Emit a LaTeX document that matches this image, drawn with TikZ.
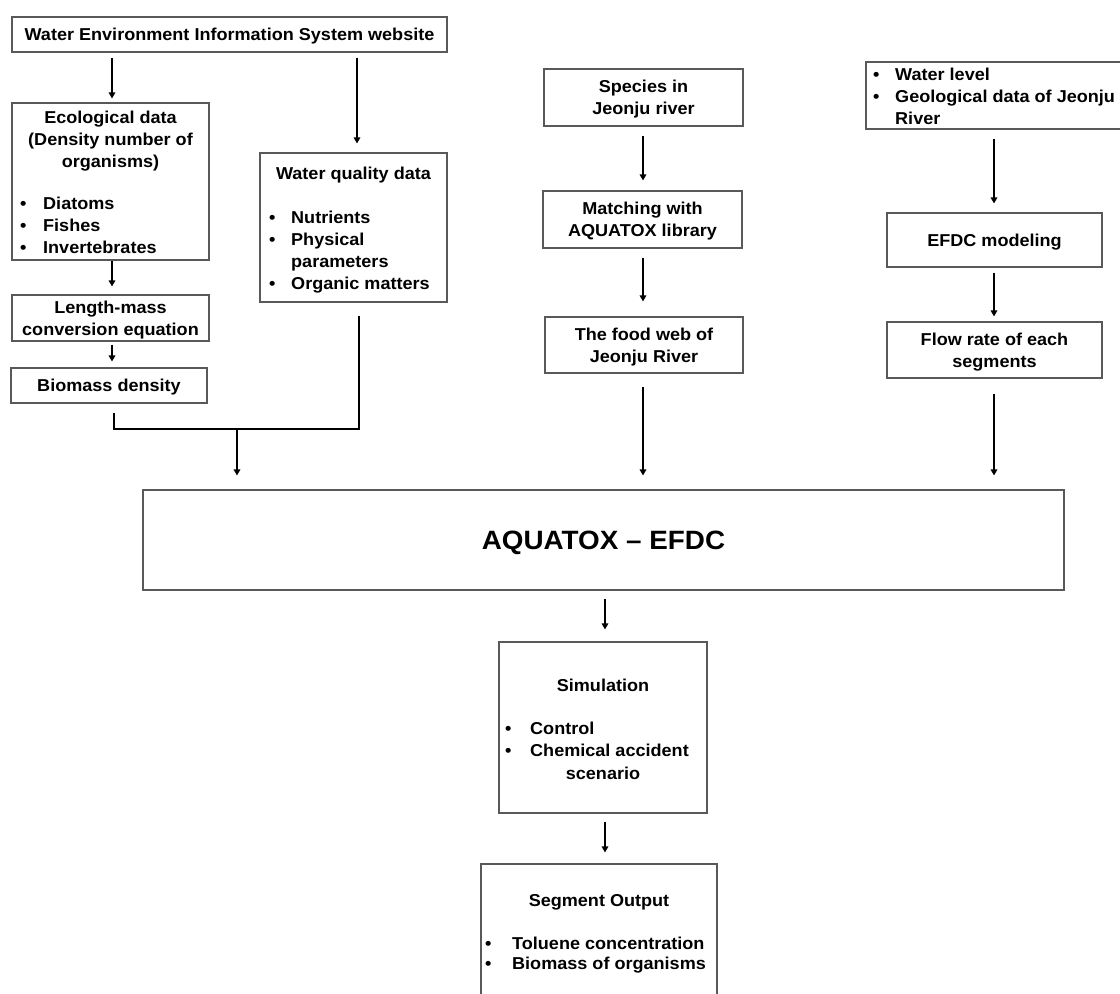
\documentclass[tikz,border=0pt]{standalone}
\usepackage{fontspec}
\setmainfont{Liberation Sans}[FakeStretch=1.05]
\usetikzlibrary{arrows.meta}
\newcommand{\fs}{\fontsize{17.2}{22}\selectfont\bfseries}
\newcommand{\bl}[1]{\makebox[#1][l]{•}}
\newcommand{\nb}[1]{\makebox[#1][l]{}}
\begin{document}
\begin{tikzpicture}[x=1pt,y=-1pt,
  box/.style={draw=black!65, line width=1.1pt, inner sep=0pt, align=center, font=\fs, text depth=0pt},
  txt/.style={inner sep=0pt, font=\fs},
  arr/.style={line width=2pt, -{Triangle[length=6pt,width=6.5pt]}},
  link/.style={line width=2.6pt, line join=miter}]
\useasboundingbox (0,0) rectangle (1120,994);
\clip (0,0) rectangle (1120,994);
% boxes
\node[box, minimum width=435pt, minimum height=35pt] (web) at (229.5,34.5) {Water Environment Information System website};
\node[box, minimum width=197pt, minimum height=157pt] (eco) at (110.5,181.5) {};
\node[txt, align=center, anchor=base] (ecoT) at (110.5,167) {Ecological data\\(Density number of\\organisms)};
\node[txt, align=left, anchor=base west] (ecoL) at (20,253) {\bl{23pt}Diatoms\\\bl{23pt}Fishes\\\bl{23pt}Invertebrates};
\node[box, minimum width=187pt, minimum height=149pt] (wq) at (353.5,227.5) {};
\node[txt, anchor=base] (wqT) at (353.5,179) {Water quality data};
\node[txt, align=left, anchor=base west] (wqL) at (269,289) {\bl{22pt}Nutrients\\\bl{22pt}Physical\\\nb{22pt}parameters\\\bl{22pt}Organic matters};
\node[box, minimum width=197pt, minimum height=46pt] (lm) at (110.5,318) {Length-mass\\conversion equation};
\node[box, minimum width=196pt, minimum height=35pt] (bd) at (109,385.5) {Biomass density};
\node[box, minimum width=199pt, minimum height=57pt] (sp) at (643.5,97.5) {Species in\\Jeonju river};
\node[box, minimum width=199pt, minimum height=57pt] (mt) at (642.5,219.5) {Matching with\\AQUATOX library};
\node[box, minimum width=198pt, minimum height=56pt] (fw) at (644,345) {The food web of\\Jeonju River};
\node[box, minimum width=264pt, minimum height=67pt] (wl) at (998,95.5) {};
\node[txt, align=left, anchor=base west] (wlL) at (873,124) {\bl{22pt}Water level\\\bl{22pt}Geological data of Jeonju\\\nb{22pt}River};
\node[box, minimum width=215pt, minimum height=54pt] (ef) at (994.5,240) {EFDC modeling};
\node[box, minimum width=215pt, minimum height=56pt] (fr) at (994.5,350) {Flow rate of each\\segments};
\node[box, minimum width=921pt, minimum height=100pt, font=\fontsize{26.5}{30}\selectfont\bfseries] (aq) at (603.5,540) {AQUATOX – EFDC};
\node[box, minimum width=208pt, minimum height=171pt] (sim) at (603,727.5) {};
\node[txt, anchor=base] (simT) at (603,691) {Simulation};
\node[txt, align=left, anchor=base west] (simL) at (505,756) {\bl{25pt}Control\\\bl{25pt}Chemical accident};
\node[txt, anchor=base] (simS) at (603,779) {scenario};
\node[box, minimum width=236pt, minimum height=146pt] (seg) at (599,937) {};
\node[txt, anchor=base] (segT) at (599,906) {Segment Output};
\node[txt, align=left, anchor=base west, font=\fontsize{17.2}{20}\selectfont\bfseries] (segL) at (485,969) {\bl{27pt}Toluene concentration\\\bl{27pt}Biomass of organisms};
% columns
\coordinate (c1) at (112,0);
\coordinate (c2) at (357,0);
\coordinate (c3) at (643,0);
\coordinate (c4) at (994,0);
\coordinate (c5) at (605,0);
\coordinate (m1) at (114,429);
\coordinate (m2) at (359,429);
\coordinate (m3) at (237,429);
% arrows
\draw[arr, shorten <=5pt, shorten >=4pt] (web.south -| c1) -- (eco.north -| c1);
\draw[arr, shorten <=5pt, shorten >=9pt] (web.south -| c2) -- (wq.north -| c2);
\draw[arr, shorten >=8pt] (eco.south -| c1) -- (lm.north -| c1);
\draw[arr, shorten <=3pt, shorten >=6pt] (lm.south -| c1) -- (bd.north -| c1);
\draw[arr, shorten <=9pt, shorten >=10pt] (sp.south -| c3) -- (mt.north -| c3);
\draw[arr, shorten <=9pt, shorten >=15pt] (mt.south -| c3) -- (fw.north -| c3);
\draw[arr, shorten <=13pt, shorten >=14pt] (fw.south -| c3) -- (aq.north -| c3);
\draw[arr, shorten <=9pt, shorten >=9pt] (wl.south -| c4) -- (ef.north -| c4);
\draw[arr, shorten <=5pt, shorten >=5pt] (ef.south -| c4) -- (fr.north -| c4);
\draw[arr, shorten <=15pt, shorten >=14pt] (fr.south -| c4) -- (aq.north -| c4);
\draw[arr, shorten <=8pt, shorten >=12pt] (aq.south -| c5) -- (sim.north -| c5);
\draw[arr, shorten <=8pt, shorten >=11pt] (sim.south -| c5) -- (seg.north -| c5);
\draw[link] ([yshift=-9pt]bd.south -| m1) -- (m1) -- (m2) -- ([yshift=-13pt]wq.south -| m2);
\draw[arr, shorten >=14pt] (m3) -- (aq.north -| m3);
\end{tikzpicture}
\end{document}
